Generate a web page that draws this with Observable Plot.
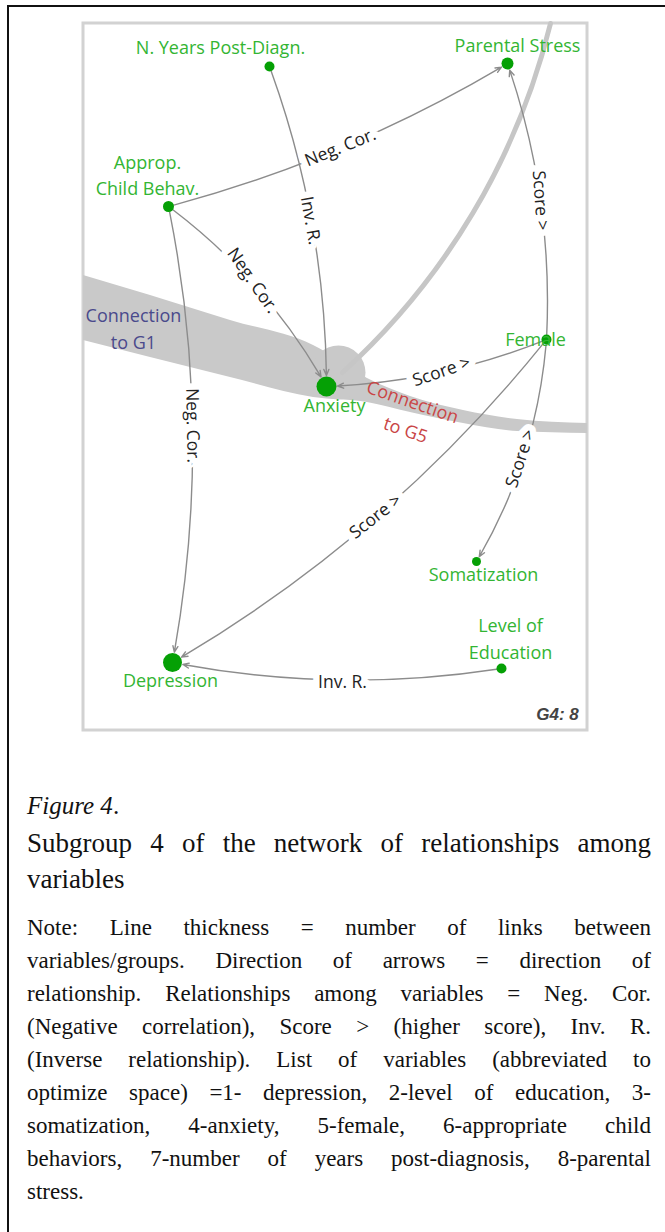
<!DOCTYPE html>
<html><head><meta charset="utf-8">
<script src="https://cdn.jsdelivr.net/npm/d3@7"></script>
<script src="https://cdn.jsdelivr.net/npm/@observablehq/plot@0.6"></script>
<style>
html,body{margin:0;padding:0;background:#fff;}
body{width:665px;height:1232px;position:relative;overflow:hidden;}
#border{position:absolute;left:7px;top:5px;width:700px;height:1300px;border-top:2px solid #111;border-left:2px solid #111;z-index:3;pointer-events:none;}
#chart{position:absolute;left:0;top:0;}
.cap{position:absolute;left:27px;width:624px;font-family:"Liberation Serif","Times New Roman",serif;color:#111;white-space:nowrap;display:flex;}
.cap.j{justify-content:space-between;}
.cap span{white-space:pre;}
</style></head><body>
<div id="border"></div>
<div id="chart"></div>
<div id="caption"></div>
<script>
// ---- nodes (layout positions) ----
const nodeId = ["years", "stress", "approp", "anxiety", "female", "somat", "educ", "depr"];
const nodeX = [269, 507, 168, 326, 546, 476, 501, 172];
const nodeY = [66, 63, 206, 386, 339, 561, 668, 662];
const nodeR = [5, 6, 5.5, 10, 5, 4.5, 5, 9.5];

// ---- node labels ----
const nodeLabel = ["N. Years Post-Diagn.", "Parental Stress", "Approp.", "Child Behav.", "Female", "Anxiety", "Somatization", "Level of", "Education", "Depression"];
const nodeLabelX = [220, 517, 147, 147, 535, 334, 483, 510, 510, 170];
const nodeLabelY = [48, 46, 163, 189, 340, 406, 575, 626, 653, 681];
const nodeLabelAnchor = ["middle", "middle", "middle", "middle", "end", "middle", "middle", "middle", "middle", "middle"];

// ---- edges ----
const edgeFrom = ["years", "approp", "approp", "approp", "female", "female", "female", "female", "educ"];
const edgeTo = ["anxiety", "stress", "anxiety", "depr", "stress", "anxiety", "somat", "depr", "depr"];
const edgeLabel = ["Inv. R.", "Neg. Cor.", "Neg. Cor.", "Neg. Cor.", "Score >", "Score >", "Score >", "Score >", "Inv. R."];
const edgeBend = [10, -8, 12, 11, -11, 10, 13, 10.5, 10];
const edgeLabelX = [310, 340, 252, 192, 540, 441, 520, 375, 342];
const edgeLabelY = [220, 147, 280, 425, 200, 371, 458, 516, 682];
const edgeLabelAngle = [80, -22, 55, 89, 86, -19, -72, -38, 0];

// ---- group connection band (G1 -> anxiety -> G5) ----
const bandX = [83, 150, 230, 313, 367, 410, 463, 517, 587];
const bandTop = [275, 295, 320, 345, 378, 396, 410, 419, 423];
const bandBottom = [340, 357, 377, 397, 402, 412, 423, 431, 433];
const blobX = [338], blobY = [372];
// arc connection from top
const arcX = [550, 342], arcY = [23, 372];
// frame
const frameX = [83, 587], frameY = [23, 730];

const connText = ["Connection", "to G1", "Connection", "to G5"];
const connX = [133, 133, 412, 405];
const connY = [316, 343, 402, 430];
const connAngle = [0, 0, 19, 19];
const connGroup = ["G1", "G1", "G5", "G5"];

const nodes = nodeId.map((id, i) => ({id, x: nodeX[i], y: nodeY[i], r: nodeR[i]}));
const byId = new Map(nodes.map(n => [n.id, n]));
const edges = edgeFrom.map((f, i) => ({
  s: byId.get(f), t: byId.get(edgeTo[i]), label: edgeLabel[i], bend: edgeBend[i],
  lx: edgeLabelX[i], ly: edgeLabelY[i], angle: edgeLabelAngle[i]
}));
const labels = nodeLabel.map((t, i) => ({t, x: nodeLabelX[i], y: nodeLabelY[i], a: nodeLabelAnchor[i]}));
const band = bandX.map((x, i) => ({x, top: bandTop[i], bottom: bandBottom[i]}));
const conns = connText.map((t, i) => ({t, x: connX[i], y: connY[i], a: connAngle[i], g: connGroup[i]}));

const font = "'Open Sans', 'Noto Sans', sans-serif";
const marks = [
  Plot.rect([{x1: frameX[0], x2: frameX[1], y1: frameY[0], y2: frameY[1]}], {x1: "x1", x2: "x2", y1: "y1", y2: "y2", fill: "none", stroke: "#d2d2d2", strokeWidth: 3}),
  Plot.areaY(band, {x: "x", y1: "top", y2: "bottom", fill: "#c9c9c9", curve: "monotone-x"}),
  Plot.dot(blobX.map((x, i) => ({x, y: blobY[i]})), {x: "x", y: "y", r: 27, fill: "#c9c9c9"}),
  Plot.arrow([{x1: arcX[0], y1: arcY[0], x2: arcX[1], y2: arcY[1]}], {x1: "x1", y1: "y1", x2: "x2", y2: "y2", bend: 17, headLength: 0, stroke: "#c6c6c6", strokeWidth: 5}),
  ...edges.map(e => Plot.arrow([e], {
    x1: d => d.s.x, y1: d => d.s.y, x2: d => d.t.x, y2: d => d.t.y,
    bend: e.bend, stroke: "#8c8c8c", strokeWidth: 1.4, headLength: 7, headAngle: 45,
    insetStart: e.s.r, insetEnd: e.t.r + 1
  })),
  Plot.text(edges, {x: "lx", y: "ly", text: "label", rotate: "angle", fontSize: 17.5, fontFamily: font, fill: "#222", stroke: "white", strokeWidth: 13, strokeLinejoin: "round"}),
  Plot.dot(nodes, {x: "x", y: "y", r: "r", fill: "#05a005"}),
  Plot.text(labels, {x: "x", y: "y", text: "t", textAnchor: d => d.a, fontSize: 18, fontFamily: font, fill: "#33b533"}),
  Plot.text(conns, {x: "x", y: "y", text: "t", rotate: "a", fill: d => d.g === "G1" ? "#4a4a8c" : "#c94545", fontSize: 18, fontFamily: font}),
  Plot.text([{x: 557, y: 714}], {x: "x", y: "y", text: () => "G4: 8", fontSize: 17, fontStyle: "italic", fontWeight: "bold", fontFamily: "'Liberation Sans', sans-serif", fill: "#444"})
];

const chart = Plot.plot({
  width: 665, height: 760,
  marginTop: 0, marginRight: 0, marginBottom: 0, marginLeft: 0,
  x: {domain: [0, 665], range: [0, 665], axis: null},
  y: {domain: [0, 760], range: [0, 760], axis: null},
  r: {type: "identity"},
  style: {background: "transparent"},
  marks
});
document.getElementById("chart").appendChild(chart);

// ---- caption ----
const capLines = [
  {t: "<i>Figure 4</i>.", fs: 25, b: 814, j: false},
  {t: "Subgroup 4 of the network of relationships among", fs: 27, b: 853, j: true},
  {t: "variables", fs: 27, b: 889, j: false},
  {t: "Note: Line thickness = number of links between", fs: 23, b: 935, j: true},
  {t: "variables/groups. Direction of arrows = direction of", fs: 23, b: 968, j: true},
  {t: "relationship. Relationships among variables = Neg. Cor.", fs: 23, b: 1001, j: true},
  {t: "(Negative correlation), Score > (higher score), Inv. R.", fs: 23, b: 1034, j: true},
  {t: "(Inverse relationship). List of variables (abbreviated to", fs: 23, b: 1067, j: true},
  {t: "optimize space) =1- depression, 2-level of education, 3-", fs: 23, b: 1100, j: true},
  {t: "somatization, 4-anxiety, 5-female, 6-appropriate child", fs: 23, b: 1133, j: true},
  {t: "behaviors, 7-number of years post-diagnosis, 8-parental", fs: 23, b: 1166, j: true},
  {t: "stress.", fs: 23, b: 1199, j: false}
];
const cap = document.getElementById("caption");
for (const l of capLines) {
  const div = document.createElement("div");
  div.className = "cap" + (l.j ? " j" : "");
  div.style.fontSize = l.fs + "px";
  div.style.lineHeight = l.fs + "px";
  div.style.height = l.fs + "px";
  div.style.top = (l.b - 0.8375 * l.fs) + "px";
  if (l.j) {
    for (const w of l.t.split(" ")) {
      const s = document.createElement("span");
      s.textContent = w;
      div.appendChild(s);
    }
  } else {
    const s = document.createElement("span");
    s.innerHTML = l.t;
    div.appendChild(s);
  }
  cap.appendChild(div);
}
</script>
</body></html>
